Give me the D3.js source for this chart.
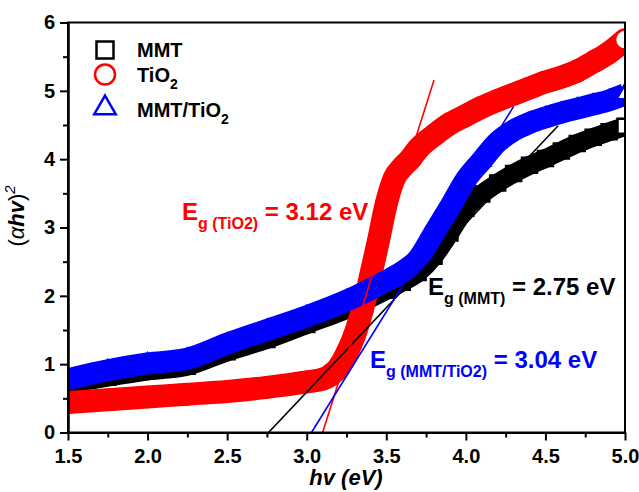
<!DOCTYPE html>
<html><head><meta charset="utf-8">
<script src="https://cdn.jsdelivr.net/npm/d3@7"></script>
<style>
body{margin:0;background:#fff}
svg{display:block}
text{font-family:"Liberation Sans",Arial,Helvetica,sans-serif;font-weight:bold}
</style>
</head><body>
<svg id="chart" width="639" height="492"></svg>
<script>
// ---- data ----
const seriesNames = ["MMT", "TiO2", "MMT/TiO2"];
const seriesColors = ["#000000", "#ff0000", "#0000ff"];

const energyMMT = [1.5,1.75,2.0,2.25,2.5,2.75,3.0,3.25,3.5,3.6,3.7,3.8,3.9,4.0,4.1,4.2,4.3,4.4,4.5,4.6,4.7,4.8,4.9,5.0];
const valueMMT  = [0.71,0.81,0.90,0.97,1.18,1.36,1.58,1.80,2.08,2.20,2.34,2.58,2.92,3.28,3.49,3.65,3.79,3.91,4.01,4.12,4.23,4.32,4.40,4.48];

const energyTiO2 = [1.5,1.75,2.0,2.25,2.5,2.75,3.0,3.1,3.15,3.2,3.25,3.3,3.35,3.4,3.45,3.5,3.55,3.6,3.65,3.7,3.8,3.9,4.0,4.1,4.2,4.3,4.4,4.5,4.6,4.7,4.8,4.9,5.0];
const valueTiO2  = [0.44,0.48,0.52,0.56,0.60,0.66,0.74,0.78,0.84,0.95,1.15,1.42,1.80,2.28,2.80,3.35,3.72,3.88,4.00,4.15,4.35,4.52,4.64,4.76,4.86,4.95,5.04,5.13,5.20,5.29,5.42,5.56,5.75];

const energyMix = [1.5,1.75,2.0,2.25,2.5,2.75,3.0,3.25,3.5,3.6,3.7,3.8,3.9,4.0,4.1,4.2,4.3,4.4,4.5,4.6,4.7,4.8,4.9,5.0];
const valueMix  = [0.78,0.91,1.01,1.08,1.30,1.50,1.70,1.93,2.22,2.35,2.54,2.92,3.30,3.70,3.98,4.25,4.42,4.53,4.61,4.68,4.74,4.80,4.86,4.95];

// tangent (Tauc) lines: [energy, value] end points
const tangentMMT  = [[2.76, 0], [4.58, 4.49]];
const tangentTiO2 = [[3.10, 0], [3.80, 5.16]];
const tangentMix  = [[3.03, 0], [4.30, 4.77]];

const xTicks = [1.5, 2.0, 2.5, 3.0, 3.5, 4.0, 4.5, 5.0];
const yTicks = [0, 1, 2, 3, 4, 5, 6];
const xMinor = [1.75, 2.25, 2.75, 3.25, 3.75, 4.25, 4.75];
const yMinor = [0.5, 1.5, 2.5, 3.5, 4.5, 5.5];

// ---- layout ----
const svg = d3.select("#chart");
const L = 68, R = 625, T = 22.5, B = 432.5;
const x = d3.scaleLinear().domain([1.5, 5.0]).range([L, R]);
const y = d3.scaleLinear().domain([0, 6]).range([B, T]);

svg.append("defs").append("clipPath").attr("id", "clip")
  .append("rect").attr("x", L).attr("y", T).attr("width", R - L).attr("height", B - T);

const plot = svg.append("g").attr("clip-path", "url(#clip)");

const series = [
  {name: "MMT", xs: energyMMT, ys: valueMMT, color: seriesColors[0], band: 19, sym: d3.symbolSquare, size: 15*15},
  {name: "TiO2", xs: energyTiO2, ys: valueTiO2, color: seriesColors[1], band: 23, sym: d3.symbolCircle, size: Math.PI*10*10},
  {name: "MMT/TiO2", xs: energyMix, ys: valueMix, color: seriesColors[2], band: 22, sym: d3.symbolTriangle, size: 130}
];

const line = d3.line().x(d => x(d[0])).y(d => y(d[1])).curve(d3.curveMonotoneX);

series.forEach(s => {
  const pts = s.xs.map((e, i) => [e, s.ys[i]]);
  const g = plot.append("g");
  g.append("path").datum(pts).attr("d", line)
    .attr("fill", "none").attr("stroke", s.color).attr("stroke-width", s.band)
    .attr("stroke-linejoin", "round");
  g.selectAll("path.m").data(pts).join("path").attr("class", "m")
    .attr("transform", d => `translate(${x(d[0])},${y(d[1])})`)
    .attr("d", d3.symbol().type(s.sym).size(s.size))
    .attr("fill", (d, i) => i === pts.length - 1 ? "#fff" : "none")
    .attr("stroke", s.color).attr("stroke-width", 2.5);
});

// tangent lines
[[tangentMMT, "#000"], [tangentTiO2, "#ff0000"], [tangentMix, "#0000ff"]].forEach(([p, c]) => {
  plot.append("line")
    .attr("x1", x(p[0][0])).attr("y1", y(p[0][1]))
    .attr("x2", x(p[1][0])).attr("y2", y(p[1][1]))
    .attr("stroke", c).attr("stroke-width", 1.6);
});

// frame
svg.append("rect").attr("x", L).attr("y", T).attr("width", R - L).attr("height", B - T)
  .attr("fill", "none").attr("stroke", "#000").attr("stroke-width", 2);

// axes
const xAxis = svg.append("g").attr("transform", `translate(0,${B})`)
  .call(d3.axisBottom(x).tickValues(xTicks).tickFormat(d3.format(".1f")).tickSize(8).tickSizeOuter(0).tickPadding(8));
const xAxisMinor = svg.append("g").attr("transform", `translate(0,${B})`)
  .call(d3.axisBottom(x).tickValues(xMinor).tickFormat("").tickSize(5).tickSizeOuter(0));
const yAxis = svg.append("g").attr("transform", `translate(${L},0)`)
  .call(d3.axisLeft(y).tickValues(yTicks).tickFormat(d3.format("d")).tickSize(8).tickSizeOuter(0).tickPadding(5));
const yAxisMinor = svg.append("g").attr("transform", `translate(${L},0)`)
  .call(d3.axisLeft(y).tickValues(yMinor).tickFormat("").tickSize(5).tickSizeOuter(0));

[xAxis, xAxisMinor, yAxis, yAxisMinor].forEach(a => {
  a.select(".domain").attr("stroke", "#000").attr("stroke-width", 2);
  a.selectAll(".tick line").attr("stroke", "#000").attr("stroke-width", 2);
  a.selectAll("text").attr("fill", "#000").style("font-size", "20px")
    .style("font-family", '"Liberation Sans",Arial,sans-serif').style("font-weight", "bold");
});

// axis titles
const xt = svg.append("text").attr("x", 346).attr("y", 485).attr("text-anchor", "middle")
  .style("font-size", "22px").style("font-style", "italic");
xt.text("hv (eV)");

const yt = svg.append("text").attr("transform", "translate(24,216) rotate(-90)")
  .attr("text-anchor", "middle").style("font-size", "22px");
yt.append("tspan").style("font-weight", "normal").text("(");
yt.append("tspan").style("font-weight", "normal").style("font-style", "italic").text("α");
yt.append("tspan").style("font-style", "italic").text("hv");
yt.append("tspan").style("font-weight", "normal").text(")");
yt.append("tspan").style("font-size", "15px").style("font-style", "italic").style("font-weight", "normal").attr("dy", -9).text("2");

// legend
const legendRows = [
  {label: "MMT", sub: "", sym: d3.symbolSquare, size: 17*17, color: seriesColors[0], y: 50, base: 56.7},
  {label: "TiO", sub: "2", sym: d3.symbolCircle, size: Math.PI*10*10, color: seriesColors[1], y: 74.5, base: 82.3},
  {label: "MMT/TiO", sub: "2", sym: d3.symbolTriangle, size: 200, color: seriesColors[2], y: 108, base: 116.7}
];
const lg = svg.append("g");
legendRows.forEach(r => {
  lg.append("path").attr("transform", `translate(105,${r.y})`)
    .attr("d", d3.symbol().type(r.sym).size(r.size))
    .attr("fill", "none").attr("stroke", r.color).attr("stroke-width", 2.5);
  const t = lg.append("text").attr("x", 137).attr("y", r.base).style("font-size", "20px").attr("fill", "#000");
  t.append("tspan").text(r.label);
  if (r.sub) t.append("tspan").style("font-size", "14px").attr("dy", 7).text(r.sub);
});

// band gap annotations
const notes = [
  {main: "E", sub: "g (TiO2)", rest: " = 3.12 eV", x: 182, y: 220, color: "#ff0000"},
  {main: "E", sub: "g (MMT)", rest: " = 2.75 eV", x: 428, y: 295, color: "#000000"},
  {main: "E", sub: "g (MMT/TiO2)", rest: " = 3.04 eV", x: 370, y: 368, color: "#0000ff"}
];
notes.forEach(n => {
  const t = svg.append("text").attr("x", n.x).attr("y", n.y).attr("fill", n.color).style("font-size", "24px");
  t.append("tspan").text(n.main);
  t.append("tspan").style("font-size", "16px").attr("dy", 9).text(n.sub);
  t.append("tspan").attr("dy", -9).text(n.rest);
});
</script>
</body></html>
